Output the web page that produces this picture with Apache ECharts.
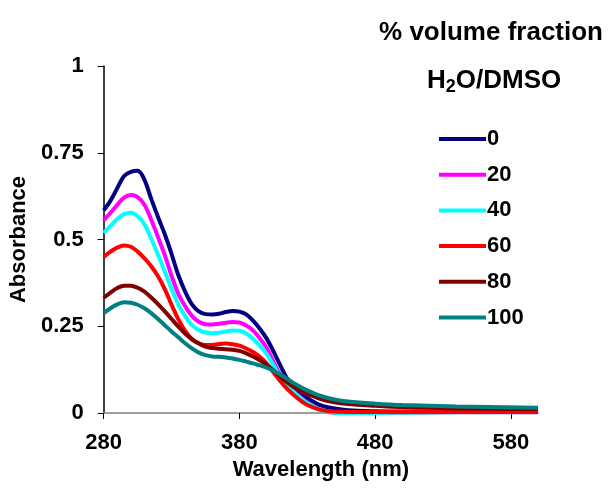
<!DOCTYPE html>
<html>
<head>
<meta charset="utf-8">
<script src="https://cdn.jsdelivr.net/npm/echarts@6/dist/echarts.min.js"></script>
<style>
	html, body { margin: 0; padding: 0; background: #fff; }
	#chart { width: 611px; height: 491px; }
</style>
</head>
<body>
<div id="chart"></div>
<script>
// wavelength (nm)
var wavelengths = [280, 285, 290, 295, 300, 305, 310, 315, 320, 325, 330, 335, 340, 345, 350, 355, 360, 365, 370, 375,
	380, 385, 390, 395, 400, 405, 410, 415, 420, 425, 430, 440, 450, 460, 480, 500, 540, 600];

// absorbance, one array per % H2O
var abs0 = [0.584, 0.612, 0.648, 0.683, 0.695, 0.698, 0.672, 0.617, 0.565, 0.515, 0.458, 0.397, 0.35, 0.313, 0.293, 0.285, 0.284, 0.286, 0.291, 0.294,
	0.292, 0.284, 0.266, 0.243, 0.215, 0.178, 0.138, 0.1, 0.073, 0.056, 0.043, 0.022, 0.013, 0.008, 0.005, 0.004, 0.004, 0.004];
var abs20 = [0.555, 0.577, 0.6, 0.621, 0.628, 0.622, 0.6, 0.557, 0.507, 0.455, 0.395, 0.343, 0.308, 0.28, 0.263, 0.256, 0.255, 0.257, 0.26, 0.262,
	0.261, 0.252, 0.238, 0.215, 0.188, 0.148, 0.11, 0.083, 0.062, 0.045, 0.03, 0.008, 0.0, -0.002, 0.0, 0.001, 0.002, 0.002];
var abs40 = [0.519, 0.539, 0.559, 0.573, 0.577, 0.567, 0.544, 0.502, 0.456, 0.408, 0.357, 0.312, 0.279, 0.253, 0.239, 0.232, 0.23, 0.231, 0.235, 0.238,
	0.237, 0.229, 0.214, 0.194, 0.17, 0.138, 0.105, 0.08, 0.06, 0.043, 0.028, 0.008, 0.001, -0.001, 0.0, 0.001, 0.002, 0.002];
var abs60 = [0.45, 0.465, 0.477, 0.483, 0.479, 0.465, 0.446, 0.423, 0.394, 0.357, 0.312, 0.27, 0.237, 0.213, 0.201, 0.196, 0.196, 0.199, 0.2, 0.198,
	0.194, 0.186, 0.176, 0.162, 0.143, 0.117, 0.092, 0.07, 0.052, 0.036, 0.023, 0.009, 0.004, 0.003, 0.003, 0.003, 0.003, 0.003];
var abs80 = [0.332, 0.347, 0.36, 0.367, 0.367, 0.361, 0.35, 0.333, 0.314, 0.293, 0.271, 0.249, 0.229, 0.212, 0.2, 0.191, 0.187, 0.185, 0.184, 0.182,
	0.179, 0.172, 0.163, 0.152, 0.139, 0.123, 0.105, 0.089, 0.075, 0.064, 0.055, 0.04, 0.031, 0.026, 0.021, 0.017, 0.013, 0.011];
var abs100 = [0.288, 0.302, 0.313, 0.319, 0.318, 0.312, 0.302, 0.288, 0.271, 0.253, 0.235, 0.218, 0.201, 0.186, 0.174, 0.167, 0.163, 0.162, 0.16, 0.157,
	0.153, 0.148, 0.143, 0.137, 0.131, 0.122, 0.111, 0.099, 0.086, 0.075, 0.065, 0.049, 0.039, 0.033, 0.027, 0.023, 0.019, 0.015];

var seriesNames = ['0', '20', '40', '60', '80', '100'];
var seriesColors = ['#000080', '#FF00FF', '#00FFFF', '#FF0000', '#800000', '#008080'];
var xTicks = [280, 380, 480, 580];

var chart = echarts.init(document.getElementById('chart'));
var font = 'Liberation Sans, Arial, sans-serif';

var allData = [abs0, abs20, abs40, abs60, abs80, abs100];
var series = allData.map(function(arr, i) {
	return {
		name: seriesNames[i],
		type: 'line',
		smooth: 0.35,
		showSymbol: false,
		symbol: 'none',
		lineStyle: { width: 4, color: seriesColors[i] },
		itemStyle: { color: seriesColors[i] },
		data: wavelengths.map(function(w, j) { return [w, arr[j]]; })
	};
});

var option = {
	animation: false,
	backgroundColor: '#fff',
	title: [{
		text: '% volume fraction',
		right: 3,
		top: 15,
		textStyle: { fontFamily: font, fontSize: 26, fontWeight: 'bold', color: '#000' }
	}, {
		text: '{a|H}{s|2}{a|O/DMSO}',
		left: 422,
		top: 61,
		textStyle: {
			rich: {
				a: { fontFamily: font, fontSize: 26, fontWeight: 'bold', color: '#000' },
				s: { fontFamily: font, fontSize: 18, fontWeight: 'bold', color: '#000', padding: [12, 0, 0, 0] }
			}
		}
	}],
	legend: {
		orient: 'vertical',
		left: 434,
		top: 122,
		icon: 'rect',
		itemWidth: 47,
		itemHeight: 4,
		itemGap: 11.7,
		data: seriesNames,
		textStyle: { fontFamily: font, fontSize: 22, fontWeight: 'bold', color: '#000', lineHeight: 24, padding: [0, 0, 0, -4] }
	},
	grid: { left: 103, top: 66, width: 435, height: 347 },
	xAxis: {
		type: 'value',
		min: 280,
		max: 600,
		interval: 100,
		name: 'Wavelength (nm)',
		nameLocation: 'middle',
		nameGap: 45,
		nameTextStyle: { fontFamily: font, fontSize: 22, fontWeight: 'bold', color: '#000' },
		axisLine: { lineStyle: { color: '#808080', width: 1.5 } },
		axisTick: { show: true, length: 6, lineStyle: { color: '#000' }, customValues: xTicks },
		axisLabel: { customValues: xTicks, margin: 19, fontFamily: font, fontSize: 22, fontWeight: 'bold', color: '#000' },
		splitLine: { show: false }
	},
	yAxis: {
		type: 'value',
		min: 0,
		max: 1,
		interval: 0.25,
		name: 'Absorbance',
		nameLocation: 'middle',
		nameRotate: 90,
		nameGap: 64,
		nameTextStyle: { fontFamily: font, fontSize: 22, fontWeight: 'bold', color: '#000' },
		axisLine: { show: true, lineStyle: { color: '#000', width: 1.5 } },
		axisTick: { show: true, length: 6, lineStyle: { color: '#000' } },
		axisLabel: { margin: 20, fontFamily: font, fontSize: 22, fontWeight: 'bold', color: '#000' },
		splitLine: { show: false }
	},
	series: series
};

chart.setOption(option);
</script>
</body>
</html>
